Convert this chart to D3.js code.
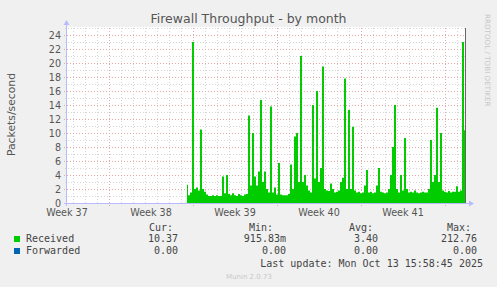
<!DOCTYPE html>
<html>
<head>
<meta charset="utf-8">
<script src="https://cdn.jsdelivr.net/npm/d3@7"></script>
<style>
  body { margin: 0; background: #f0f0f0; }
  text { font-family: "DejaVu Sans", sans-serif; }
  .mono { font-family: "DejaVu Sans Mono", monospace; }
</style>
</head>
<body>
<div id="chart"></div>
<script>
// Received packets/second, one value every 4 hours, starting Sep 21 12:00
const receivedStart = Date.UTC(2025, 8, 21, 12);
const stepHours = 4;
const received = [
  2.6, 1.1, 1.5, 23.0, 2.0, 2.2, 1.8, 10.5, 2.0, 1.6,
  1.2, 1.0, 1.0, 1.1, 1.0, 1.1, 1.0, 1.0, 3.8, 1.4,
  4.0, 1.3, 1.1, 1.4, 1.1, 1.0, 1.3, 1.1, 1.0, 1.2,
  1.3, 12.5, 2.5, 10.0, 3.8, 2.5, 4.5, 14.7, 3.0, 4.5,
  2.0, 1.5, 13.8, 1.5, 2.2, 1.2, 5.7, 1.2, 1.1, 1.1,
  1.1, 1.3, 5.5, 2.0, 9.5, 10.0, 3.0, 21.0, 3.0, 4.0,
  2.5, 1.8, 1.5, 14.0, 3.5, 16.0, 3.0, 5.0, 19.5, 2.0,
  1.8, 1.7, 2.8, 2.0, 1.5, 1.6, 1.8, 3.0, 3.6, 17.8,
  2.0, 13.3, 2.0, 10.9, 1.8, 1.5, 1.6, 1.4, 1.5, 2.5,
  4.7, 1.5, 1.6, 1.4, 1.5, 2.5, 5.0, 1.6, 1.5, 1.4,
  1.5, 2.0, 4.0, 8.0, 14.0, 2.0, 1.5, 4.0, 1.8, 9.3,
  2.0, 1.5, 1.6, 1.5, 1.8, 1.5, 1.4, 1.5, 1.6, 1.5,
  1.5, 2.0, 9.0, 3.0, 4.0, 13.6, 3.0, 10.0, 1.8, 1.6,
  1.5, 1.7, 1.5, 1.6, 1.6, 2.4, 1.6, 1.8, 23.0, 10.4
];

const seriesNames = ["Received", "Forwarded"];
const seriesColors = ["#00cc00", "#0066b3"];
const statHeaders = ["Cur:", "Min:", "Avg:", "Max:"];
const receivedStats = ["10.37", "915.83m", "3.40", "212.76"];
const forwardedStats = ["0.00", "0.00", "0.00", "0.00"];

const weekStarts = [
  Date.UTC(2025, 8, 8), Date.UTC(2025, 8, 15), Date.UTC(2025, 8, 22),
  Date.UTC(2025, 8, 29), Date.UTC(2025, 9, 6), Date.UTC(2025, 9, 13)
];
const weekLabels = ["Week 37", "Week 38", "Week 39", "Week 40", "Week 41"];
const yTicks = [0, 2, 4, 6, 8, 10, 12, 14, 16, 18, 20, 22, 24];

const W = 497, H = 287;
const plot = { left: 67, right: 467, top: 28, bottom: 203 };

const svg = d3.select("#chart").append("svg")
  .attr("width", W).attr("height", H);

svg.append("rect").attr("width", W).attr("height", H).attr("fill", "#f0f0f0");
svg.append("rect")
  .attr("x", plot.left).attr("y", plot.top - 1)
  .attr("width", plot.right - plot.left - 1).attr("height", plot.bottom - plot.top + 1)
  .attr("fill", "#ffffff");

const x = d3.scaleUtc()
  .domain([Date.UTC(2025, 8, 11, 12), Date.UTC(2025, 9, 14, 20)])
  .range([plot.left, plot.right]);
const y = d3.scaleLinear().domain([0, 25]).range([plot.bottom, plot.top]);

// minor grid: every day / every unit
const minorColor = "#d6d6d6", majorColor = "#e4a8a8";
const days = d3.utcDay.range(x.domain()[0], x.domain()[1]);
const grid = svg.append("g");
grid.selectAll(".vmin").data(days.filter(d => d.getUTCDay() !== 1)).join("line")
  .attr("x1", d => Math.round(x(d)) + 0.5).attr("x2", d => Math.round(x(d)) + 0.5)
  .attr("y1", plot.top).attr("y2", plot.bottom + 2)
  .attr("stroke", minorColor).attr("stroke-dasharray", "1,2");
grid.selectAll(".hmin").data(d3.range(1, 26, 2)).join("line")
  .attr("x1", plot.left - 2).attr("x2", plot.right - 1)
  .attr("y1", d => Math.round(y(d)) + 0.5).attr("y2", d => Math.round(y(d)) + 0.5)
  .attr("stroke", minorColor).attr("stroke-dasharray", "1,2");
// major grid
grid.selectAll(".vmaj").data(weekStarts.filter(d => x(d) > plot.left && x(d) < plot.right)).join("line")
  .attr("x1", d => Math.round(x(d)) + 0.5).attr("x2", d => Math.round(x(d)) + 0.5)
  .attr("y1", plot.top).attr("y2", plot.bottom + 3)
  .attr("stroke", majorColor).attr("stroke-dasharray", "1,2");
grid.selectAll(".hmaj").data(yTicks.slice(1)).join("line")
  .attr("x1", plot.left - 3).attr("x2", plot.right - 1)
  .attr("y1", d => Math.round(y(d)) + 0.5).attr("y2", d => Math.round(y(d)) + 0.5)
  .attr("stroke", majorColor).attr("stroke-dasharray", "1,2");

// received area
const area = d3.area()
  .x((d, i) => x(receivedStart + i * stepHours * 3600000))
  .y0(y(0))
  .y1(d => y(d))
  .curve(d3.curveStep);
svg.append("path")
  .datum(received)
  .attr("fill", seriesColors[0])
  .attr("d", area);

// right border line
svg.append("line")
  .attr("x1", plot.right - 1.5).attr("x2", plot.right - 1.5)
  .attr("y1", plot.top).attr("y2", plot.bottom)
  .attr("stroke", "#666");

// axes
const axisColor = "#b8bcff";
svg.append("line")
  .attr("x1", plot.left - 0.5).attr("x2", plot.left - 0.5)
  .attr("y1", plot.bottom + 3).attr("y2", plot.top - 5)
  .attr("stroke", axisColor);
svg.append("path")
  .attr("d", `M${plot.left - 3.5},${plot.top - 3} L${plot.left - 0.5},${plot.top - 8} L${plot.left + 2.5},${plot.top - 3} Z`)
  .attr("fill", axisColor);
svg.append("line")
  .attr("x1", plot.left - 3).attr("x2", plot.right + 4)
  .attr("y1", plot.bottom + 0.5).attr("y2", plot.bottom + 0.5)
  .attr("stroke", axisColor);
svg.append("path")
  .attr("d", `M${plot.right + 2},${plot.bottom - 2.5} L${plot.right + 7},${plot.bottom + 0.5} L${plot.right + 2},${plot.bottom + 3.5} Z`)
  .attr("fill", axisColor);

// y tick labels
svg.append("g").selectAll("text").data(yTicks).join("text")
  .attr("x", 61).attr("y", d => y(d) + 3.5)
  .attr("text-anchor", "end")
  .attr("font-size", 9.6).attr("fill", "#555")
  .text(d => d);

// x tick labels, centred on each week
svg.append("g").selectAll("text").data(weekLabels).join("text")
  .attr("x", (d, i) => x(weekStarts[i] + 3.5 * 86400000))
  .attr("y", 216)
  .attr("text-anchor", "middle")
  .attr("font-size", 9.6).attr("fill", "#555")
  .text(d => d);

// title and axis label
svg.append("text")
  .attr("x", 248.5).attr("y", 23)
  .attr("text-anchor", "middle")
  .attr("font-size", 12.5).attr("fill", "#555")
  .text("Firewall Throughput - by month");
svg.append("text")
  .attr("transform", "translate(15,114.5) rotate(-90)")
  .attr("text-anchor", "middle")
  .attr("font-size", 10.8).attr("fill", "#555")
  .text("Packets/second");
svg.append("text")
  .attr("transform", "translate(485,14) rotate(90)")
  .attr("font-size", 7.2).attr("fill", "#c8c8c8")
  .text("RRDTOOL / TOBI OETIKER");

// legend
const legend = svg.append("g").attr("class", "mono").attr("font-size", 10).attr("fill", "#444");
const headerX = [149, 249, 349, 447];
const valueX = [178, 286, 378, 477];
legend.selectAll(".hdr").data(statHeaders).join("text")
  .attr("class", "mono")
  .attr("x", (d, i) => headerX[i]).attr("y", 231)
  .text(d => d);
[receivedStats, forwardedStats].forEach((stats, r) => {
  const rowY = 242 + r * 12;
  legend.append("rect")
    .attr("x", 14).attr("y", rowY - 6).attr("width", 6).attr("height", 6)
    .attr("fill", seriesColors[r]);
  legend.append("text").attr("class", "mono")
    .attr("x", 26).attr("y", rowY).text(seriesNames[r]);
  legend.selectAll(".v" + r).data(stats).join("text")
    .attr("class", "mono")
    .attr("x", (d, i) => valueX[i]).attr("y", rowY)
    .attr("text-anchor", "end")
    .text(d => d);
});
legend.append("text").attr("class", "mono")
  .attr("x", 483).attr("y", 267).attr("text-anchor", "end")
  .text("Last update: Mon Oct 13 15:58:45 2025");
svg.append("text")
  .attr("x", 249).attr("y", 279).attr("text-anchor", "middle")
  .attr("font-size", 7).attr("fill", "#c8c8c8")
  .text("Munin 2.0.73");
</script>
</body>
</html>
